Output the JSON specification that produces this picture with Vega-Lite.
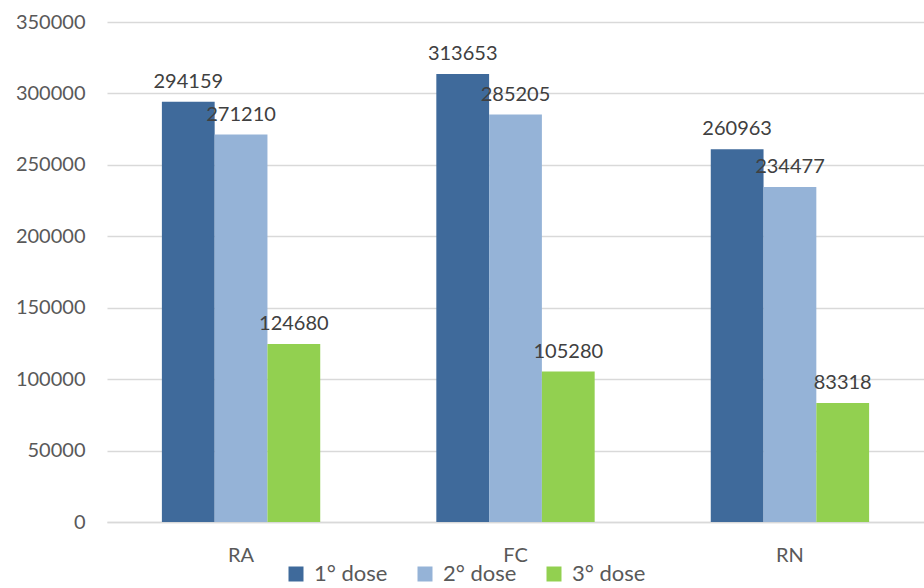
{
  "$schema": "https://vega.github.io/schema/vega-lite/v6.json",
  "autosize": {"type": "none"},
  "width": 817,
  "height": 500,
  "padding": {"left": 107, "top": 22, "right": 0, "bottom": 66},
  "background": "white",
  "config": {
    "view": {"stroke": null},
    "font": "Lato",
    "axis": {"labelFont": "Lato", "labelColor": "#595959"},
    "legend": {"labelFont": "Lato"}
  },
  "data": {
    "values": [
      {"region": "RA", "dose": "1° dose", "value": 294159},
      {"region": "RA", "dose": "2° dose", "value": 271210},
      {"region": "RA", "dose": "3° dose", "value": 124680},
      {"region": "FC", "dose": "1° dose", "value": 313653},
      {"region": "FC", "dose": "2° dose", "value": 285205},
      {"region": "FC", "dose": "3° dose", "value": 105280},
      {"region": "RN", "dose": "1° dose", "value": 260963},
      {"region": "RN", "dose": "2° dose", "value": 234477},
      {"region": "RN", "dose": "3° dose", "value": 83318}
    ]
  },
  "encoding": {
    "x": {
      "field": "region",
      "type": "nominal",
      "sort": ["RA", "FC", "RN"],
      "scale": {"paddingInner": 0.423, "paddingOuter": 0.2},
      "axis": {
        "title": null,
        "labelAngle": 0,
        "labelFontSize": 20,
        "ticks": false,
        "domain": true,
        "domainColor": "#D9D9D9",
        "domainWidth": 1.5,
        "labelPadding": 23
      }
    },
    "xOffset": {"field": "dose", "type": "nominal", "sort": ["1° dose", "2° dose", "3° dose"], "scale": {"paddingInner": 0, "paddingOuter": 0}},
    "y": {
      "field": "value",
      "type": "quantitative",
      "scale": {"domain": [0, 350000], "nice": false},
      "axis": {
        "title": null,
        "values": [0, 50000, 100000, 150000, 200000, 250000, 300000, 350000],
        "format": "d",
        "labelFontSize": 20,
        "labelPadding": 22,
        "ticks": false,
        "domain": false,
        "grid": true,
        "gridColor": "#D9D9D9",
        "gridWidth": 1.5
      }
    }
  },
  "layer": [
    {
      "mark": {"type": "bar"},
      "encoding": {
        "color": {
          "field": "dose",
          "type": "nominal",
          "sort": ["1° dose", "2° dose", "3° dose"],
          "scale": {"domain": ["1° dose", "2° dose", "3° dose"], "range": ["#3F6A9B", "#95B3D7", "#92D050"]},
          "legend": {
            "title": null,
            "orient": "none",
            "direction": "horizontal",
            "legendX": 178,
            "legendY": 541,
            "symbolType": "square",
            "symbolSize": 225,
            "symbolStrokeWidth": 0,
            "labelFontSize": 22,
            "labelColor": "#595959",
            "labelOffset": 7,
            "columnPadding": 26
          }
        }
      }
    },
    {
      "mark": {"type": "text", "baseline": "bottom", "dy": -10, "fontSize": 20, "color": "#404040", "font": "Lato"},
      "encoding": {
        "text": {"field": "value", "type": "quantitative", "format": "d"}
      }
    }
  ]
}
